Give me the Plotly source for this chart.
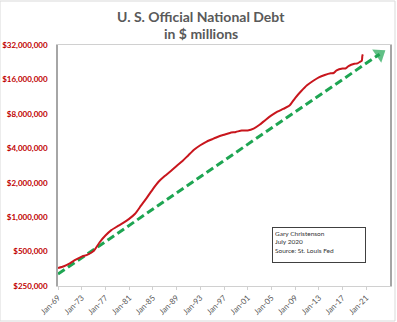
import plotly.graph_objects as go

# U.S. federal debt, $ millions (St. Louis Fed series)
debt_dates = [
    "1969-01-01", "1970-01-01", "1971-01-01", "1972-01-01", "1973-01-01",
    "1974-01-01", "1975-01-01", "1976-01-01", "1977-01-01", "1978-01-01",
    "1979-01-01", "1980-01-01", "1981-01-01", "1982-01-01", "1983-01-01",
    "1984-01-01", "1985-01-01", "1986-01-01", "1987-01-01", "1988-01-01",
    "1989-01-01", "1990-01-01", "1991-01-01", "1992-01-01", "1993-01-01",
    "1994-01-01", "1995-01-01", "1996-01-01", "1997-01-01", "1998-01-01",
    "1999-01-01", "2000-01-01", "2001-01-01", "2002-01-01", "2003-01-01",
    "2004-01-01", "2005-01-01", "2006-01-01", "2007-01-01", "2008-01-01",
    "2009-01-01", "2010-01-01", "2011-01-01", "2012-01-01", "2013-01-01",
    "2014-01-01", "2015-01-01", "2015-07-01", "2016-01-01", "2017-01-01",
    "2017-07-01", "2018-01-01", "2019-01-01", "2019-07-01", "2020-01-01",
    "2020-04-01", "2020-05-01", "2020-06-01",
]
debt_values = [
    359000, 372000, 395000, 425000, 452000,
    470000, 505000, 600000, 690000, 770000,
    830000, 890000, 965000, 1070000, 1260000,
    1480000, 1760000, 2050000, 2290000, 2520000,
    2800000, 3100000, 3480000, 3900000, 4250000,
    4560000, 4800000, 5050000, 5250000, 5450000,
    5560000, 5720000, 5730000, 5940000, 6420000,
    7080000, 7750000, 8350000, 8850000, 9400000,
    11000000, 12600000, 14200000, 15500000, 16700000,
    17500000, 18100000, 18200000, 19200000, 19900000,
    19950000, 20900000, 21900000, 22100000, 22900000,
    23300000, 25600000, 26500000,
]

# Trend: constant growth rate, drawn as an arrow
trend_dates = ["1969-01-01", "2023-04-01"]
trend_values = [318000, 26600000]

# Axis ticks
y_tickvals = [250000, 500000, 1000000, 2000000, 4000000, 8000000, 16000000, 32000000]
y_ticktext = ["$250,000", "$500,000", "$1,000,000", "$2,000,000",
              "$4,000,000", "$8,000,000", "$16,000,000", "$32,000,000"]
x_years = list(range(1969, 2022, 4))
x_tickvals = [f"{y}-01-01" for y in x_years]
x_ticktext = [f"Jan-{y % 100:02d}" for y in x_years]

title_lines = ["U. S. Official National Debt", "in $ millions"]

fig = go.Figure()

fig.add_trace(go.Scatter(
    x=trend_dates, y=trend_values, mode="lines+markers",
    line=dict(color="#1EA552", width=3, dash="8px,4px"),
    marker=dict(symbol="triangle-up", size=[0, 14], color="#1EA552",
                angleref="previous", line=dict(width=0)),
    hoverinfo="skip", showlegend=False,
))

fig.add_trace(go.Scatter(
    x=debt_dates, y=debt_values, mode="lines",
    line=dict(color="#C8161D", width=2, shape="spline", smoothing=0.6),
    showlegend=False,
))

title_annotations = [
    dict(xref="paper", yref="paper", x=0.43, y=yy, xanchor="center",
         yanchor="middle", showarrow=False, text=f"<b>{t}</b>",
         font=dict(size=14, color="#595959"))
    for t, yy in zip(title_lines, [1.120, 1.046])
]

fig.update_layout(
    width=397, height=322,
    margin=dict(l=58, r=7, t=45, b=36, autoexpand=False),
    paper_bgcolor="white", plot_bgcolor="white",
    font=dict(family="Lato, 'Open Sans', sans-serif"),
    xaxis=dict(
        type="date", range=["1969-01-01", "2025-01-01"],
        tickvals=x_tickvals, ticktext=x_ticktext, tickangle=-45,
        tickfont=dict(size=8, color="#595959"),
        showgrid=False, zeroline=False, automargin=False,
        showline=True, linecolor="#D0D0D0", linewidth=1, mirror=True,
        ticks="outside", ticklen=3, tickcolor="#D0D0D0",
    ),
    yaxis=dict(
        type="log", range=[5.3979, 7.5051],
        tickvals=y_tickvals, ticktext=y_ticktext,
        tickfont=dict(size=8, color="#C00000", family="Lato", weight="bold"),
        showgrid=False, zeroline=False, automargin=False,
        showline=True, linecolor="#A6A6A6", linewidth=1.5, mirror=True,
        ticks="", ticklabelstandoff=7,
    ),
    annotations=title_annotations + [dict(
        xref="paper", yref="paper", x=0.645, y=0.245,
        xanchor="left", yanchor="top", showarrow=False,
        text="Gary Christenson<br>July 2020<br>Source: St. Louis Fed",
        align="left", valign="top", width=88, height=30,
        font=dict(size=6.5, color="#333333"),
        bordercolor="#404040", borderwidth=1, borderpad=2, bgcolor="white",
    )],
    shapes=[dict(
        type="rect", xref="paper", yref="paper",
        x0=-58 / 332, x1=1 + 5 / 332, y0=-35 / 241, y1=1 + 44 / 241,
        line=dict(color="#D9D9D9", width=1), layer="below",
    )],
)

fig.write_html("out.html")
